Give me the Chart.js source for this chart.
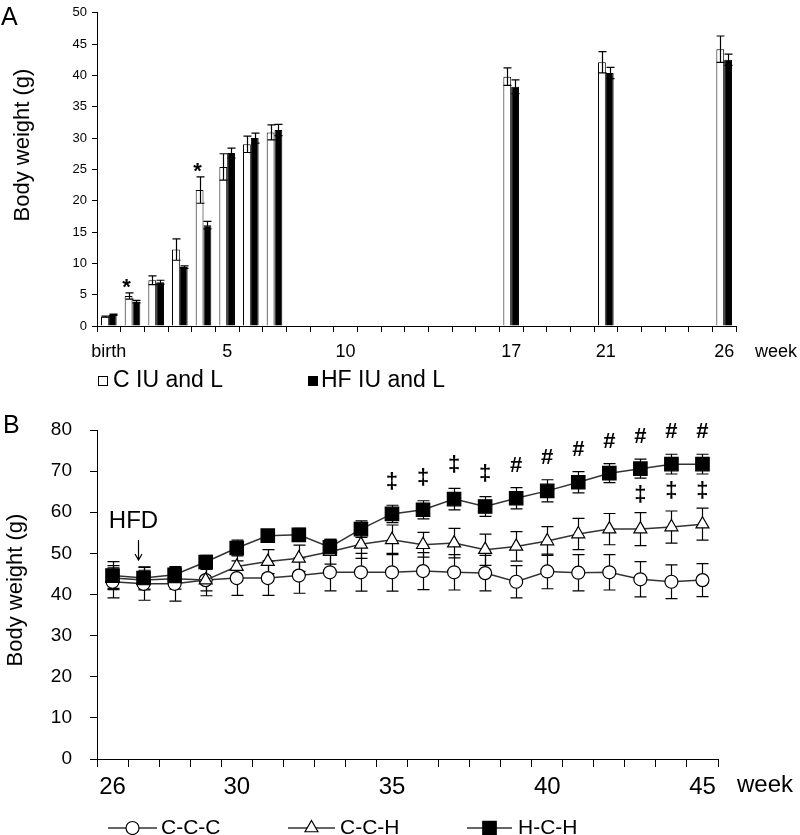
<!DOCTYPE html>
<html>
<head>
<meta charset="utf-8">
<script src="https://cdn.jsdelivr.net/npm/chart.js@4.4.1/dist/chart.umd.min.js"></script>
<style>
html, body { margin: 0; padding: 0; background: #fff; }
#wrap { position: relative; width: 800px; height: 835px; }
#box-a { position: absolute; left: 0; top: 0; width: 800px; height: 400px; }
#box-b { position: absolute; left: 0; top: 400px; width: 800px; height: 435px; }
</style>
</head>
<body>
<div id="wrap">
  <div id="box-a"><canvas id="chart-a"></canvas></div>
  <div id="box-b"><canvas id="chart-b"></canvas></div>
</div>
<script>
const FONT = '"Liberation Sans", Arial, Helvetica, sans-serif';
Chart.defaults.font.family = FONT;
Chart.defaults.color = "#000";

// ---- panel A: body weight birth -> week 26 ----
const weeksA = ["birth", "1", "2", "3", "4", "5", "6", "7", "8", "9", "10", "11", "12", "13",
    "14", "15", "16", "17", "18", "19", "20", "21", "22", "23", "24", "25", "26"];
const shownA = ["birth", "5", "10", "17", "21", "26"];
const ctrlA = [1.5, 4.8, 7.3, 12.2, 21.7, 25.4, 29.0, 30.9, null, null, null, null, null, null,
    null, null, null, 39.8, null, null, null, 42.1, null, null, null, null, 44.2];
const ctrlErrA = [0.1, 0.5, 0.7, 1.7, 2.1, 2.1, 1.3, 1.2, null, null, null, null, null, null,
    null, null, null, 1.4, null, null, null, 1.7, null, null, null, null, 2.1];
const hfA = [1.8, 3.9, 7.0, 9.4, 16.1, 27.6, 30.0, 31.3, null, null, null, null, null, null,
    null, null, null, 38.2, null, null, null, 40.4, null, null, null, null, 42.5];
const hfErrA = [0.1, 0.2, 0.3, 0.2, 0.6, 0.8, 0.8, 0.9, null, null, null, null, null, null,
    null, null, null, 1.1, null, null, null, 0.9, null, null, null, null, 0.9];
const starIdxA = [1, 4];

// ---- panel B: body weight week 26 -> 45 ----
const weeksB = ["26", "27", "28", "29", "30", "31", "32", "33", "34", "35",
    "36", "37", "38", "39", "40", "41", "42", "43", "44", "45"];
const shownB = ["26", "30", "35", "40", "45"];
const cccB = [43.1, 42.6, 42.6, 43.5, 44.0, 44.0, 44.6, 45.4, 45.4, 45.4,
    45.7, 45.4, 45.2, 43.1, 45.6, 45.3, 45.4, 43.7, 43.1, 43.5];
const cccErrB = [3.9, 4.0, 4.2, 3.8, 4.2, 4.2, 4.3, 4.5, 4.6, 4.6,
    4.5, 4.3, 4.3, 3.9, 4.2, 4.4, 4.3, 4.3, 4.1, 4.0];
const cchB = [44.0, 43.5, 43.8, 43.5, 46.8, 48.0, 48.8, 50.4, 52.2, 53.3,
    52.1, 52.5, 50.9, 51.7, 53.0, 54.7, 55.9, 55.9, 56.4, 57.1];
const cchErrB = [2.5, 2.4, 2.5, 2.6, 2.8, 2.9, 3.2, 3.0, 3.4, 3.6,
    3.0, 3.6, 3.8, 3.6, 3.5, 3.8, 3.8, 4.0, 3.9, 3.9];
const hchB = [44.6, 44.0, 44.8, 47.9, 51.3, 54.3, 54.5, 51.5, 55.9, 59.6,
    60.6, 63.2, 61.4, 63.4, 65.2, 67.3, 69.5, 70.6, 71.7, 71.7];
const hchErrB = [3.4, 2.7, 1.8, 1.6, 1.9, 1.5, 1.6, 1.9, 2.0, 2.1,
    2.2, 2.6, 2.4, 2.6, 2.7, 2.6, 2.3, 2.3, 2.4, 2.4];
// significance marks over / under H-C-H
const marksAboveB = [null, null, null, null, null, null, null, null, null, "‡",
    "‡", "‡", "‡", "#", "#", "#", "#", "#", "#", "#"];
const marksBelowB = [null, null, null, null, null, null, null, null, null, null,
    null, null, null, null, null, null, null, "‡", "‡", "‡"];
const hfdIdxB = 1;

function drawErrorBars(chart, capHalf) {
    const ctx = chart.ctx;
    const yScale = chart.scales.y;
    ctx.save();
    ctx.strokeStyle = "#000";
    ctx.lineWidth = 1.2;
    chart.data.datasets.forEach((ds, i) => {
        const meta = chart.getDatasetMeta(i);
        meta.data.forEach((el, j) => {
            const v = ds.data[j];
            if (v == null) return;
            const e = ds.errors[j];
            const top = yScale.getPixelForValue(v + e);
            const bot = yScale.getPixelForValue(v - e);
            const x = Math.round(el.x) + 0.5;
            ctx.beginPath();
            ctx.moveTo(x, bot);
            ctx.lineTo(x, top);
            ctx.moveTo(x - capHalf, top);
            ctx.lineTo(x + capHalf, top);
            ctx.moveTo(x - capHalf, bot);
            ctx.lineTo(x + capHalf, bot);
            ctx.stroke();
        });
    });
    ctx.restore();
}

function rotatedText(ctx, text, x, y, size) {
    ctx.save();
    ctx.translate(x, y);
    ctx.rotate(-Math.PI / 2);
    ctx.textAlign = "center";
    ctx.textBaseline = "middle";
    ctx.font = size + "px " + FONT;
    ctx.fillText(text, 0, 0);
    ctx.restore();
}

const panelAExtras = {
    id: "panelAExtras",
    afterDatasetsDraw(chart) {
        drawErrorBars(chart, 4);
    },
    afterDraw(chart) {
        const ctx = chart.ctx;
        const yScale = chart.scales.y;
        const meta0 = chart.getDatasetMeta(0);
        ctx.save();
        ctx.fillStyle = "#000";
        ctx.textAlign = "left";
        ctx.textBaseline = "alphabetic";
        ctx.font = "25px " + FONT;
        ctx.fillText("A", 1, 25);
        rotatedText(ctx, "Body weight (g)", 23, 145, 22);

        ctx.textBaseline = "middle";
        ctx.font = "18px " + FONT;
        ctx.fillText("week", 755, 352);

        // asterisks over control bars
        ctx.textAlign = "center";
        ctx.textBaseline = "alphabetic";
        ctx.font = "bold 22px " + FONT;
        starIdxA.forEach(i => {
            const top = yScale.getPixelForValue(ctrlA[i] + ctrlErrA[i]);
            ctx.fillText("*", meta0.data[i].x - 2, top - 12 + 13);
        });

        // legend
        const ds = chart.data.datasets;
        ctx.lineWidth = 1;
        ctx.strokeStyle = "#000";
        ctx.strokeRect(98.5, 376.5, 9, 9);
        ctx.fillRect(308, 376, 10, 10);
        ctx.textAlign = "left";
        ctx.textBaseline = "middle";
        ctx.font = "23px " + FONT;
        ctx.fillText(ds[0].label, 113, 381);
        ctx.fillText(ds[1].label, 321, 381);
        ctx.restore();
    }
};

function drawMarker(ctx, style, x, y, r, fill) {
    ctx.beginPath();
    if (style === "circle") {
        ctx.arc(x, y, r, 0, Math.PI * 2);
    } else if (style === "triangle") {
        ctx.moveTo(x, y - r);
        ctx.lineTo(x + r * 0.866, y + r * 0.5);
        ctx.lineTo(x - r * 0.866, y + r * 0.5);
        ctx.closePath();
    } else {
        const h = r * Math.SQRT1_2;
        ctx.rect(x - h, y - h, 2 * h, 2 * h);
    }
    ctx.fillStyle = fill;
    ctx.fill();
    ctx.stroke();
}

const panelBExtras = {
    id: "panelBExtras",
    beforeDatasetsDraw(chart) {
        drawErrorBars(chart, 6);
    },
    afterDraw(chart) {
        const ctx = chart.ctx;
        const yScale = chart.scales.y;
        const metaH = chart.getDatasetMeta(2);
        ctx.save();
        ctx.fillStyle = "#000";
        ctx.textAlign = "left";
        ctx.textBaseline = "alphabetic";
        ctx.font = "25px " + FONT;
        ctx.fillText("B", 3, 33);
        rotatedText(ctx, "Body weight (g)", 16, 190, 22);

        ctx.textBaseline = "middle";
        ctx.font = "24px " + FONT;
        ctx.fillText("week", 737, 385);

        // significance marks
        ctx.textAlign = "center";
        ctx.textBaseline = "alphabetic";
        ctx.font = "bold 22px " + FONT;
        marksAboveB.forEach((m, i) => {
            if (!m) return;
            const top = yScale.getPixelForValue(hchB[i] + hchErrB[i]);
            const c = top - 24;
            ctx.fillText(m, metaH.data[i].x, c + (m === "#" ? 8 : 7));
        });
        marksBelowB.forEach((m, i) => {
            if (!m) return;
            const bot = yScale.getPixelForValue(hchB[i] - hchErrB[i]);
            const c = bot + 16;
            ctx.fillText(m, metaH.data[i].x, c + 7);
        });

        // HFD arrow
        const ax = Math.round(metaH.data[hfdIdxB].x) - 6 + 0.5;
        const tip = yScale.getPixelForValue(hchB[hfdIdxB] + hchErrB[hfdIdxB]) - 7;
        ctx.strokeStyle = "#000";
        ctx.lineWidth = 1.2;
        ctx.beginPath();
        ctx.moveTo(ax, tip - 20);
        ctx.lineTo(ax, tip);
        ctx.moveTo(ax - 3.5, tip - 6);
        ctx.lineTo(ax, tip);
        ctx.lineTo(ax + 3.5, tip - 6);
        ctx.stroke();
        ctx.textBaseline = "middle";
        ctx.font = "24px " + FONT;
        ctx.fillText("HFD", ax - 5, tip - 39);

        // legend
        const items = [
            { x0: 108, x1: 157, text: 161 },
            { x0: 288, x1: 335, text: 340 },
            { x0: 467, x1: 512, text: 518 },
        ];
        const ly = 428;
        chart.data.datasets.forEach((ds, i) => {
            const it = items[i];
            ctx.strokeStyle = "#333";
            ctx.lineWidth = 1.5;
            ctx.beginPath();
            ctx.moveTo(it.x0, ly);
            ctx.lineTo(it.x1, ly);
            ctx.stroke();
            ctx.strokeStyle = "#000";
            ctx.lineWidth = 1.2;
            drawMarker(ctx, ds.pointStyle, (it.x0 + it.x1) / 2, ly, ds.pointRadius, ds.pointBackgroundColor);
            ctx.fillStyle = "#000";
            ctx.textAlign = "left";
            ctx.textBaseline = "middle";
            ctx.font = "21px " + FONT;
            ctx.fillText(ds.label, it.text, ly);
        });
        ctx.restore();
    }
};

new Chart(document.getElementById("chart-a").getContext("2d"), {
    type: "bar",
    data: {
        labels: weeksA,
        datasets: [{
            label: "C IU and L",
            data: ctrlA,
            errors: ctrlErrA,
            backgroundColor: "#fff",
            borderColor: "#000",
            borderWidth: 1,
            categoryPercentage: 0.66,
            barPercentage: 1.0,
        }, {
            label: "HF IU and L",
            data: hfA,
            errors: hfErrA,
            backgroundColor: "#000",
            borderColor: "#000",
            borderWidth: 1,
            categoryPercentage: 0.66,
            barPercentage: 1.0,
        }],
    },
    options: {
        responsive: true,
        maintainAspectRatio: false,
        animation: false,
        layout: { padding: { top: 8, right: 64, bottom: 0, left: 0 } },
        plugins: {
            legend: { display: false },
            tooltip: { enabled: false },
        },
        scales: {
            x: {
                grid: { drawOnChartArea: false, offset: true, tickLength: 6, tickColor: "#000" },
                border: { color: "#000" },
                ticks: {
                    autoSkip: false,
                    maxRotation: 0,
                    padding: 9,
                    font: { size: 18 },
                    callback: (v, i) => shownA.includes(weeksA[i]) ? weeksA[i] : "",
                },
                afterFit: s => { s.height = 74; },
            },
            y: {
                min: 0,
                max: 50,
                grid: { drawOnChartArea: false, tickLength: 5, tickColor: "#000" },
                border: { color: "#000" },
                ticks: { stepSize: 5, padding: 5, font: { size: 13 } },
                afterFit: s => { s.width = 97; },
            },
        },
    },
    plugins: [panelAExtras],
});

new Chart(document.getElementById("chart-b").getContext("2d"), {
    type: "line",
    data: {
        labels: weeksB,
        datasets: [{
            label: "C-C-C",
            data: cccB,
            errors: cccErrB,
            order: 3,
            borderColor: "#333",
            borderWidth: 1.5,
            pointStyle: "circle",
            pointRadius: 6.5,
            pointBackgroundColor: "#fff",
            pointBorderColor: "#000",
            pointBorderWidth: 1.2,
            tension: 0,
        }, {
            label: "C-C-H",
            data: cchB,
            errors: cchErrB,
            order: 2,
            borderColor: "#333",
            borderWidth: 1.5,
            pointStyle: "triangle",
            pointRadius: 7.5,
            pointBackgroundColor: "#fff",
            pointBorderColor: "#000",
            pointBorderWidth: 1.2,
            tension: 0,
        }, {
            label: "H-C-H",
            data: hchB,
            errors: hchErrB,
            order: 1,
            borderColor: "#333",
            borderWidth: 1.5,
            pointStyle: "rect",
            pointRadius: 9.5,
            pointBackgroundColor: "#000",
            pointBorderColor: "#000",
            pointBorderWidth: 1.2,
            tension: 0,
        }],
    },
    options: {
        responsive: true,
        maintainAspectRatio: false,
        animation: false,
        layout: { padding: { top: 30, right: 82, bottom: 0, left: 0 } },
        plugins: {
            legend: { display: false },
            tooltip: { enabled: false },
        },
        scales: {
            x: {
                offset: true,
                grid: { drawOnChartArea: false, offset: true, tickLength: 8, tickColor: "#000" },
                border: { color: "#000" },
                ticks: {
                    autoSkip: false,
                    maxRotation: 0,
                    padding: 6,
                    font: { size: 24 },
                    callback: (v, i) => shownB.includes(weeksB[i]) ? weeksB[i] : "",
                },
                afterFit: s => { s.height = 76; },
            },
            y: {
                min: 0,
                max: 80,
                grid: { drawOnChartArea: false, tickLength: 7, tickColor: "#000" },
                border: { color: "#000" },
                ticks: { stepSize: 10, padding: 18, font: { size: 19 } },
                afterFit: s => { s.width = 97; },
            },
        },
    },
    plugins: [panelBExtras],
});
</script>
</body>
</html>
